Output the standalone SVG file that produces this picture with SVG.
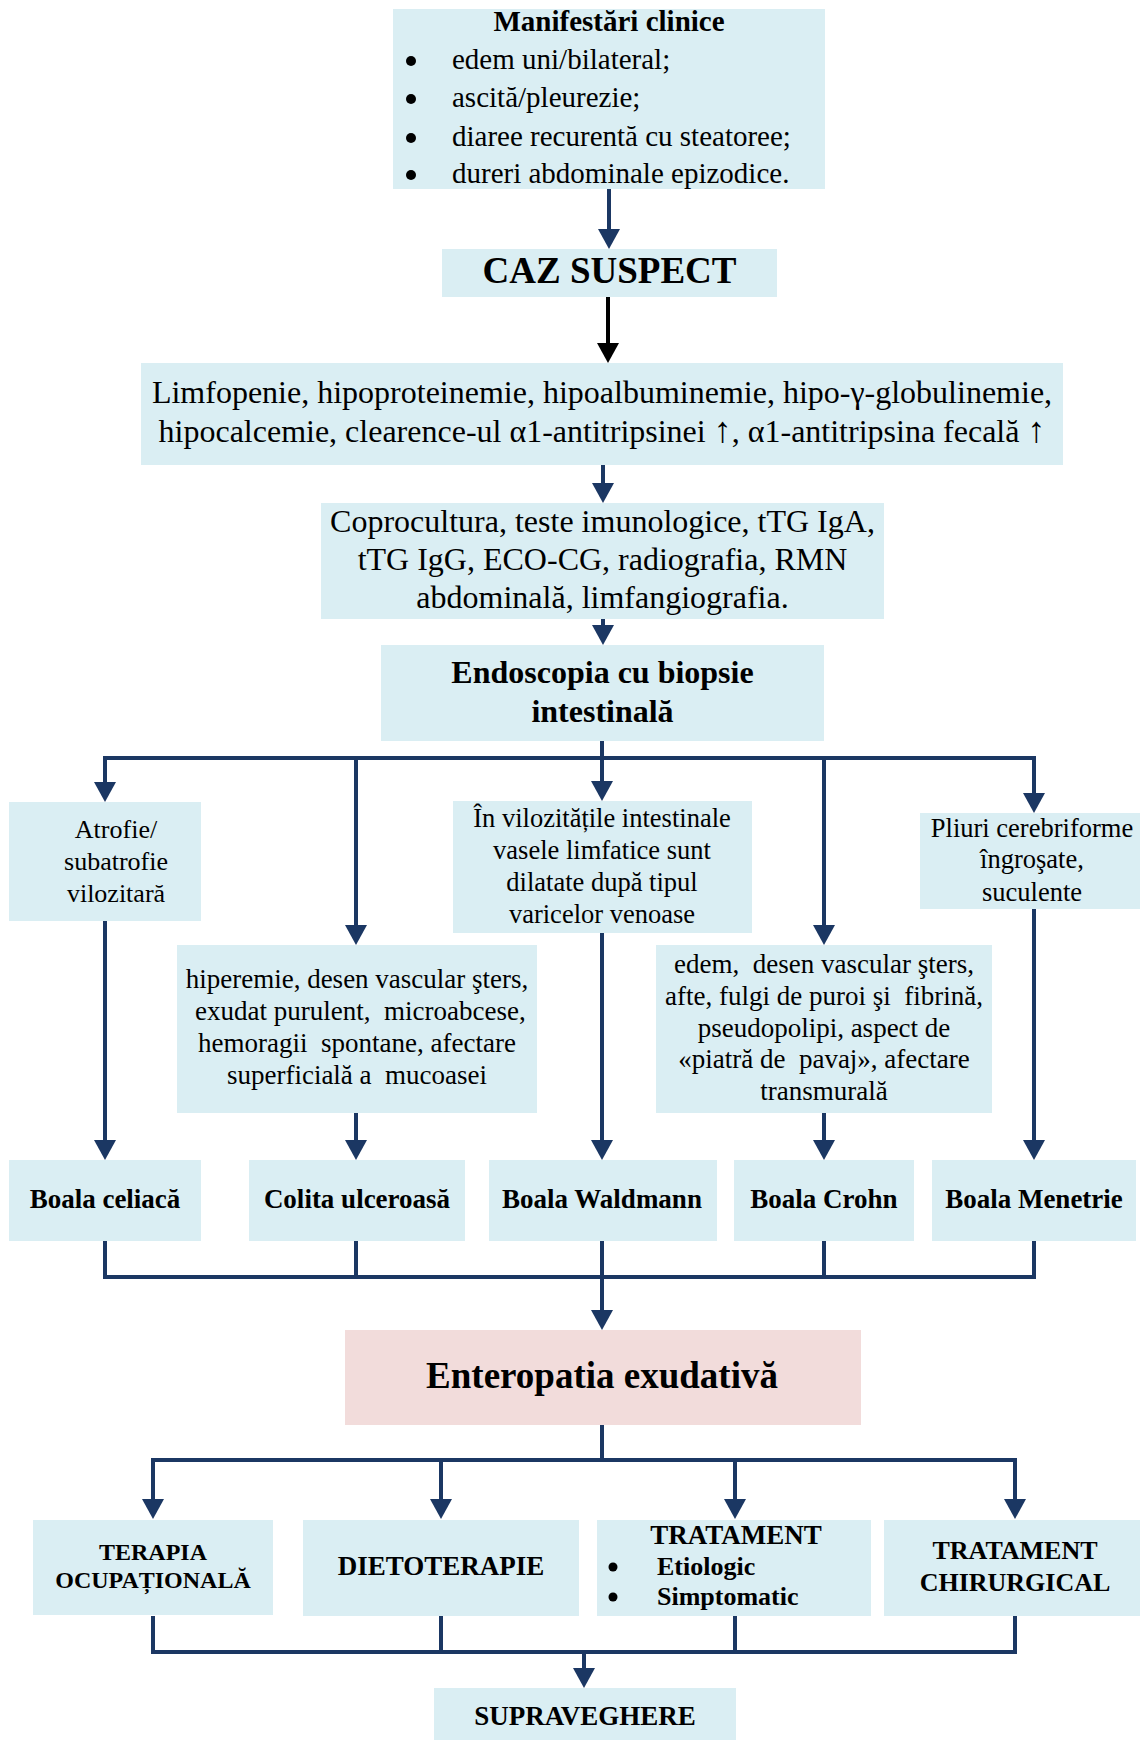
<svg xmlns="http://www.w3.org/2000/svg" width="1140" height="1740" viewBox="0 0 1140 1740">
<style>
.box{fill:#DAEEF3}
.pink{fill:#F2DCDB}
text{font-family:"Liberation Serif","Times New Roman",serif;fill:#000;white-space:pre}
.c{text-anchor:middle}
.b{font-weight:bold}
.f26{font-size:26px}
.f265{font-size:26.5px}
.f27{font-size:27px}
.f29{font-size:29px}
.f32{font-size:32px}
.f37{font-size:37px}
.ln{fill:none;stroke:#1B3763;stroke-width:4}
.lnk{fill:none;stroke:#000;stroke-width:4}
.arr{marker-end:url(#ah)}
</style>
<defs>
<marker id="ah" markerUnits="userSpaceOnUse" markerWidth="20" markerHeight="22" viewBox="0 0 20 22" refX="0" refY="11" orient="auto"><path d="M0,0 L20,11 L0,22 z" fill="#1B3763"/></marker>
<marker id="ahk" markerUnits="userSpaceOnUse" markerWidth="20" markerHeight="22" viewBox="0 0 20 22" refX="0" refY="11" orient="auto"><path d="M0,0 L20,11 L0,22 z" fill="#000"/></marker>
</defs>
<rect width="1140" height="1740" fill="#fff"/>

<g id="connectors">
<line class="ln arr" x1="609" y1="189" x2="609" y2="229"/>
<line class="lnk" x1="608" y1="297" x2="608" y2="343" marker-end="url(#ahk)"/>
<line class="ln arr" x1="603" y1="465" x2="603" y2="483"/>
<line class="ln arr" x1="603" y1="619" x2="603" y2="625"/>
<line class="ln" x1="602" y1="741" x2="602" y2="758"/>
<polyline class="ln" points="105,781 105,758 1034,758 1034,792"/>
<line class="ln arr" x1="105" y1="770" x2="105" y2="782"/>
<line class="ln arr" x1="356" y1="758" x2="356" y2="925"/>
<line class="ln arr" x1="602" y1="758" x2="602" y2="781"/>
<line class="ln arr" x1="824" y1="758" x2="824" y2="925"/>
<line class="ln arr" x1="1034" y1="770" x2="1034" y2="793"/>
<line class="ln arr" x1="105" y1="921" x2="105" y2="1140"/>
<line class="ln arr" x1="356" y1="1113" x2="356" y2="1140"/>
<line class="ln arr" x1="602" y1="933" x2="602" y2="1140"/>
<line class="ln arr" x1="824" y1="1113" x2="824" y2="1140"/>
<line class="ln arr" x1="1034" y1="909" x2="1034" y2="1140"/>
<polyline class="ln" points="105,1241 105,1277 1034,1277 1034,1241"/>
<line class="ln" x1="356" y1="1241" x2="356" y2="1277"/>
<line class="ln" x1="824" y1="1241" x2="824" y2="1277"/>
<line class="ln arr" x1="602" y1="1241" x2="602" y2="1310"/>
<line class="ln" x1="602" y1="1425" x2="602" y2="1460"/>
<polyline class="ln" points="153,1480 153,1460 1015,1460 1015,1480"/>
<line class="ln arr" x1="153" y1="1470" x2="153" y2="1499"/>
<line class="ln arr" x1="441" y1="1460" x2="441" y2="1499"/>
<line class="ln arr" x1="735" y1="1460" x2="735" y2="1499"/>
<line class="ln arr" x1="1015" y1="1470" x2="1015" y2="1499"/>
<polyline class="ln" points="153,1616 153,1652 1015,1652 1015,1616"/>
<line class="ln" x1="441" y1="1616" x2="441" y2="1652"/>
<line class="ln" x1="735" y1="1616" x2="735" y2="1652"/>
<line class="ln arr" x1="584" y1="1652" x2="584" y2="1668"/>
</g>

<g id="manifestari">
<rect class="box" x="393" y="9" width="432" height="180"/>
<text class="c b f29" x="609" y="31">Manifestări clinice</text>
<circle cx="411" cy="61" r="5"/>
<circle cx="411" cy="99" r="5"/>
<circle cx="411" cy="138" r="5"/>
<circle cx="411" cy="175" r="5"/>
<text class="f29" x="452" y="69">edem uni/bilateral;</text>
<text class="f29" x="452" y="107">ascită/pleurezie;</text>
<text class="f29" x="452" y="146">diaree recurentă cu steatoree;</text>
<text class="f29" x="452" y="183">dureri abdominale epizodice.</text>
</g>

<g id="caz-suspect">
<rect class="box" x="442" y="249" width="335" height="48"/>
<text class="c b f37" x="609.5" y="283">CAZ SUSPECT</text>
</g>

<g id="analize">
<rect class="box" x="141" y="363" width="922" height="102"/>
<text class="c f32" x="602" y="403">Limfopenie, hipoproteinemie, hipoalbuminemie, hipo-γ-globulinemie,</text>
<text class="c f32" x="602" y="442">hipocalcemie, clearence-ul α1-antitripsinei <tspan style="font-size:36px">↑</tspan>, α1-antitripsina fecală <tspan style="font-size:36px">↑</tspan></text>
</g>

<g id="investigatii">
<rect class="box" x="321" y="503" width="563" height="116"/>
<text class="c f32" x="602.5" y="532">Coprocultura, teste imunologice, tTG IgA,</text>
<text class="c f32" x="602.5" y="570">tTG IgG, ECO-CG, radiografia, RMN</text>
<text class="c f32" x="602.5" y="608">abdominală, limfangiografia.</text>
</g>

<g id="endoscopia">
<rect class="box" x="381" y="645" width="443" height="96"/>
<text class="c b f32" x="602.5" y="683">Endoscopia cu biopsie</text>
<text class="c b f32" x="602.5" y="722">intestinală</text>
</g>

<g id="atrofie">
<rect class="box" x="9" y="802" width="192" height="119"/>
<text class="c f26" x="116" y="838">Atrofie/</text>
<text class="c f26" x="116" y="870">subatrofie</text>
<text class="c f26" x="116" y="902">vilozitară</text>
</g>

<g id="hiperemie">
<rect class="box" x="177" y="945" width="360" height="168"/>
<text class="c f27" x="357" y="988">hiperemie, desen vascular şters,</text>
<text class="c f27" x="357" y="1020"> exudat purulent,  microabcese,</text>
<text class="c f27" x="357" y="1052">hemoragii  spontane, afectare</text>
<text class="c f27" x="357" y="1084">superficială a  mucoasei</text>
</g>

<g id="vilozitati">
<rect class="box" x="453" y="801" width="299" height="132"/>
<text class="c f265" x="602" y="827">În vilozitățile intestinale</text>
<text class="c f265" x="602" y="859">vasele limfatice sunt</text>
<text class="c f265" x="602" y="891">dilatate după tipul</text>
<text class="c f265" x="602" y="923">varicelor venoase</text>
</g>

<g id="edem">
<rect class="box" x="656" y="945" width="336" height="168"/>
<text class="c f27" x="824" y="973">edem,  desen vascular şters,</text>
<text class="c f27" x="824" y="1005">afte, fulgi de puroi şi  fibrină,</text>
<text class="c f27" x="824" y="1037">pseudopolipi, aspect de</text>
<text class="c f27" x="824" y="1068">«piatră de  pavaj», afectare</text>
<text class="c f27" x="824" y="1100">transmurală</text>
</g>

<g id="pliuri">
<rect class="box" x="920" y="813" width="220" height="96"/>
<text class="c f265" x="1032" y="837">Pliuri cerebriforme</text>
<text class="c f265" x="1032" y="868">îngroşate,</text>
<text class="c f265" x="1032" y="901">suculente</text>
</g>

<g id="boala-celiaca">
<rect class="box" x="9" y="1160" width="192" height="81"/>
<text class="c b f27" x="105" y="1208">Boala celiacă</text>
</g>
<g id="colita">
<rect class="box" x="249" y="1160" width="216" height="81"/>
<text class="c b f27" x="357" y="1208">Colita ulceroasă</text>
</g>
<g id="waldmann">
<rect class="box" x="489" y="1160" width="228" height="81"/>
<text class="c b f27" x="602" y="1208">Boala Waldmann</text>
</g>
<g id="crohn">
<rect class="box" x="734" y="1160" width="180" height="81"/>
<text class="c b f27" x="824" y="1208">Boala Crohn</text>
</g>
<g id="menetrie">
<rect class="box" x="932" y="1160" width="204" height="81"/>
<text class="c b f27" x="1034" y="1208">Boala Menetrie</text>
</g>

<g id="enteropatia">
<rect class="pink" x="345" y="1330" width="516" height="95"/>
<text class="c b f37" x="602" y="1388">Enteropatia exudativă</text>
</g>

<g id="terapia">
<rect class="box" x="33" y="1520" width="240" height="95"/>
<text class="c b" style="font-size:24px" x="153" y="1560">TERAPIA</text>
<text class="c b" style="font-size:24px" x="153" y="1588">OCUPAȚIONALĂ</text>
</g>
<g id="dietoterapie">
<rect class="box" x="303" y="1520" width="276" height="96"/>
<text class="c b f27" x="441" y="1575">DIETOTERAPIE</text>
</g>
<g id="tratament">
<rect class="box" x="597" y="1520" width="274" height="96"/>
<text class="c b f27" x="736" y="1544">TRATAMENT</text>
<circle cx="613" cy="1567" r="4.5"/>
<circle cx="613" cy="1597" r="4.5"/>
<text class="b f26" x="657" y="1575">Etiologic</text>
<text class="b f26" x="657" y="1605">Simptomatic</text>
</g>
<g id="chirurgical">
<rect class="box" x="884" y="1520" width="256" height="96"/>
<text class="c b f26" x="1015" y="1559">TRATAMENT</text>
<text class="c b f26" x="1015" y="1591">CHIRURGICAL</text>
</g>
<g id="supraveghere">
<rect class="box" x="434" y="1688" width="302" height="52"/>
<text class="c b f27" x="585" y="1725">SUPRAVEGHERE</text>
</g>
</svg>
